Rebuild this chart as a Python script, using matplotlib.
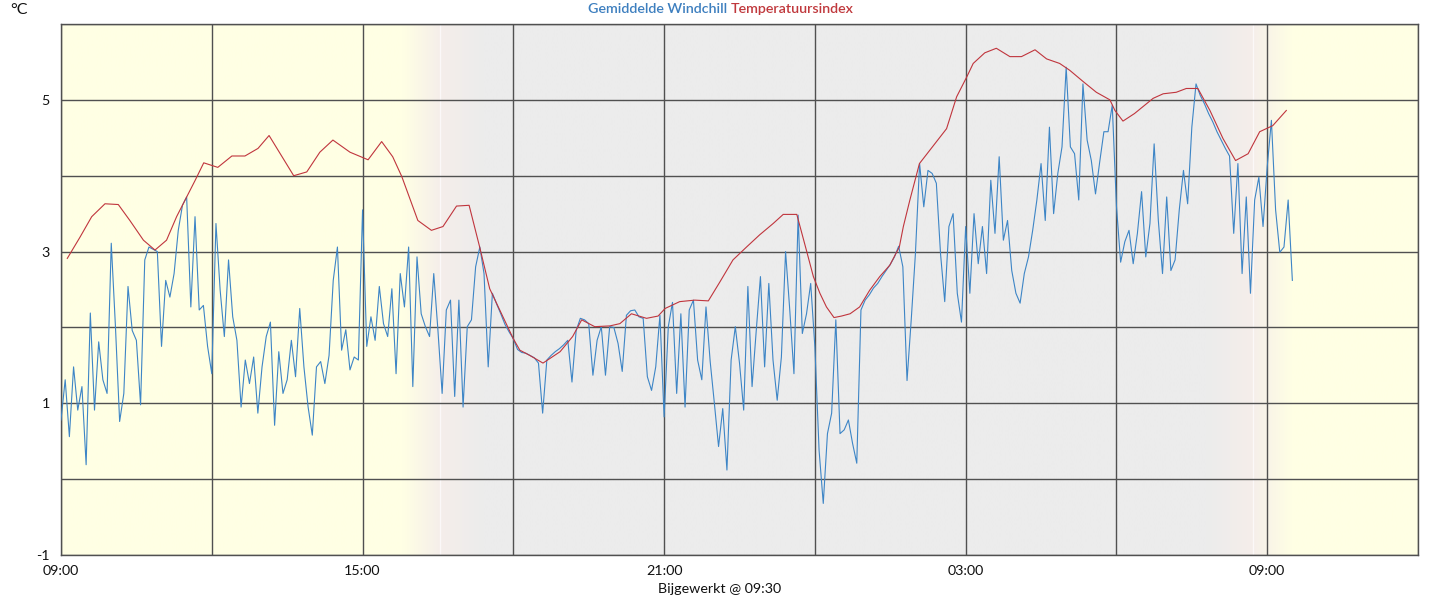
import numpy as np
import matplotlib
matplotlib.use("Agg")
import matplotlib.pyplot as plt
from matplotlib.colors import to_rgb

plt.rcParams['font.family'] = ['Lato', 'DejaVu Sans']

# ---------------- data ----------------
# Gemiddelde Windchill, 5-minute samples starting 09:00
windchill = [
    0.78, 1.31, 0.56, 1.48, 0.91, 1.22, 0.19, 2.19, 0.91, 1.81,
    1.31, 1.13, 3.11, 2.01, 0.76, 1.13, 2.54, 1.96, 1.83, 0.98,
    2.89, 3.06, 3.03, 3.00, 1.75, 2.62, 2.40, 2.71, 3.28, 3.61,
    3.72, 2.27, 3.46, 2.23, 2.29, 1.75, 1.39, 3.37, 2.49, 1.88,
    2.89, 2.14, 1.83, 0.95, 1.57, 1.26, 1.61, 0.87, 1.48, 1.88,
    2.07, 0.71, 1.68, 1.13, 1.31, 1.83, 1.35, 2.25, 1.48, 0.95,
    0.58, 1.48, 1.55, 1.26, 1.63, 2.62, 3.06, 1.70, 1.97, 1.44,
    1.61, 1.57,
    3.55, 1.75, 2.14, 1.83, 2.54, 2.05, 1.88, 2.51, 1.39, 2.71,
    2.27, 3.06, 1.22, 2.93, 2.18, 2.01, 1.88, 2.71, 1.96, 1.13,
    2.23, 2.36, 1.09, 2.36, 0.95, 2.01, 2.10, 2.80, 3.06, 2.71,
    1.48, 2.45, 2.31, 2.18, 2.04, 1.94, 1.85, 1.71, 1.67, 1.66,
    1.63, 1.60, 1.53, 0.87, 1.57, 1.63, 1.68, 1.72,
    1.77, 1.83, 1.28, 1.96, 2.12, 2.10, 2.05, 1.37, 1.83, 2.01,
    1.37, 2.01, 2.00, 1.79, 1.42, 2.16, 2.22, 2.23, 2.14, 2.12,
    1.35, 1.17, 1.48, 2.16, 0.82, 2.01, 2.33, 1.13, 2.18, 0.95,
    2.23, 2.36, 1.57, 1.31, 2.27, 1.55, 1.00, 0.43, 0.93, 0.12,
    1.57, 2.01, 1.53, 0.91, 2.54, 1.22, 1.96, 2.67, 1.48, 2.58,
    1.57, 1.04,
    1.61, 3.00, 2.23, 1.39, 3.48, 1.92, 2.18, 2.58, 1.74, 0.38,
    -0.32, 0.60, 0.87, 2.10, 0.60, 0.65, 0.78, 0.47, 0.21, 2.23,
    2.36, 2.43, 2.52, 2.58, 2.67, 2.75, 2.83, 2.93,
    3.07, 2.80, 1.30, 2.10, 2.97, 4.16, 3.59, 4.07, 4.03, 3.90,
    2.97, 2.34, 3.33, 3.50, 2.45, 2.07, 3.33, 2.45, 3.50, 2.84,
    3.33, 2.71, 3.94, 3.24, 4.25, 3.15, 3.41, 2.75, 2.45, 2.32,
    2.71, 2.93, 3.28, 3.68, 4.16, 3.41, 4.64, 3.50, 4.03, 4.38,
    5.43, 4.38, 4.29, 3.68, 5.21, 4.47, 4.20, 3.76, 4.18, 4.58,
    4.58, 4.93,
    3.60, 2.86, 3.13, 3.28, 2.84, 3.24, 3.79, 2.93, 3.37, 4.42,
    3.41, 2.71, 3.72, 2.75, 2.89, 3.55, 4.07, 3.63, 4.64, 5.21,
    5.06, 4.95, 4.82, 4.71, 4.58, 4.47, 4.36, 4.26, 3.24, 4.16,
    2.71, 3.72, 2.45, 3.68, 3.98, 3.33, 4.12, 4.73, 3.55, 2.99,
    3.06, 3.68, 2.62,
]
windchill_step_min = 5

# Temperatuursindex: hours after 09:00 and values
temp_hours = [
    0.125, 0.378, 0.611, 0.875, 1.14, 1.37, 1.64, 1.87, 2.10, 2.30,
    2.67, 2.84, 3.12, 3.40, 3.66, 3.92, 4.14, 4.63, 4.89, 5.15,
    5.41, 5.75, 6.11, 6.38, 6.60, 6.78, 7.10, 7.37, 7.60, 7.87,
    8.12, 8.33, 8.53, 9.00, 9.13, 9.33, 9.59, 9.93, 10.18, 10.36,
    10.62, 10.92, 11.12, 11.35, 11.65, 11.88, 12.02, 12.31, 12.61, 12.88,
    13.11, 13.37, 13.64, 13.90, 14.17, 14.37, 14.64, 14.83, 14.97, 15.10,
    15.23, 15.38, 15.53, 15.70, 15.89, 16.09, 16.29, 16.49, 16.68, 16.76,
    16.89, 17.08, 17.35, 17.62, 17.82, 18.02, 18.15, 18.38, 18.61, 18.88,
    19.11, 19.38, 19.61, 19.87, 20.07, 20.34, 20.60, 20.87, 20.97, 21.13,
    21.36, 21.73, 21.93, 22.19, 22.39, 22.62, 22.86, 23.12, 23.37, 23.62,
    23.85, 24.11, 24.38,
]
temp_values = [
    2.91, 3.19, 3.46, 3.63, 3.62, 3.41, 3.15, 3.02, 3.15, 3.46,
    3.94, 4.17, 4.11, 4.26, 4.26, 4.36, 4.53, 4.00, 4.05, 4.31,
    4.47, 4.31, 4.21, 4.45, 4.25, 3.99, 3.41, 3.28, 3.33, 3.60,
    3.61, 3.06, 2.51, 1.85, 1.70, 1.63, 1.53, 1.68, 1.88, 2.10,
    2.01, 2.02, 2.05, 2.18, 2.12, 2.15, 2.25, 2.34, 2.36, 2.35,
    2.60, 2.89, 3.06, 3.22, 3.37, 3.49, 3.49, 3.02, 2.67, 2.45,
    2.27, 2.13, 2.15, 2.18, 2.27, 2.49, 2.67, 2.82, 3.06, 3.33,
    3.68, 4.16, 4.39, 4.62, 5.04, 5.30, 5.48, 5.62, 5.68, 5.57,
    5.57, 5.66, 5.54, 5.48, 5.39, 5.24, 5.10, 5.00, 4.86, 4.72,
    4.82, 5.02, 5.08, 5.10, 5.15, 5.15, 4.86, 4.49, 4.20, 4.29,
    4.58, 4.66, 4.86,
]

x_tick_hours = [0, 6, 12, 18, 24]
x_tick_labels = ['09:00', '15:00', '21:00', '03:00', '09:00']
y_tick_values = [-1, 1, 3, 5]

sunset_h = 7.55
sunrise_h = 23.71

# ---------------- figure ----------------
W, H = 1440, 600
fig = plt.figure(figsize=(W / 100, H / 100), dpi=100)
ax = fig.add_axes([61 / W, (H - 555) / H, (1418 - 61) / W, (555 - 24) / H])

x0, x1 = 0, 27
y0, y1 = -1, 6
ax.set_xlim(x0, x1)
ax.set_ylim(y0, y1)

# day / night background
yellow = np.array(to_rgb('#ffffe4'))
pink = np.array(to_rgb('#f5eeea'))
grey = np.array(to_rgb('#ececec'))
stops_h = [0, 6.8, sunset_h, 8.4, 22.8, sunrise_h, 24.5, 27]
stops_c = [yellow, yellow, pink, grey, grey, pink, yellow, yellow]
xs = np.linspace(x0, x1, 2000)
cols = np.stack([np.interp(xs, stops_h, [c[k] for c in stops_c]) for k in range(3)], axis=-1)
ax.imshow(cols[np.newaxis, :, :], extent=[x0, x1, y0, y1], aspect='auto',
          interpolation='bilinear', zorder=0)
for h in (sunset_h, sunrise_h):
    ax.axvline(h, color='#fbf8f8', lw=1.0, zorder=0.5)

# grid
ax.set_xticks(np.arange(0, 28, 3))
ax.set_xticklabels([x_tick_labels[x_tick_hours.index(h)] if h in x_tick_hours else ''
                    for h in range(0, 28, 3)])
ax.set_yticks(np.arange(-1, 7, 1))
ax.set_yticklabels([str(v) if v in y_tick_values else '' for v in range(-1, 7)])
ax.grid(True, color='#505050', lw=1.0, zorder=1)
ax.set_axisbelow(False)
for s in ax.spines.values():
    s.set_color('#505050')
    s.set_linewidth(1.0)
ax.tick_params(length=0, labelsize=10.3, colors='#111111')
ax.tick_params(axis='y', pad=8)
ax.tick_params(axis='x', pad=7)

# lines
wx = np.arange(len(windchill)) * windchill_step_min / 60.0
ax.plot(wx, windchill, color='#3d85c6', lw=0.8, zorder=3)
ax.plot(temp_hours, temp_values, color='#c0353d', lw=0.8, zorder=4)

# texts
fig.text(727 / W, 1 - 9 / H, 'Gemiddelde Windchill', color='#3d7fbf', ha='right',
         va='center', fontsize=10.3, fontweight='semibold')
fig.text(731 / W, 1 - 9 / H, 'Temperatuursindex', color='#c0393d', ha='left',
         va='center', fontsize=10.3, fontweight='semibold')
fig.text(10 / W, 1 - 10 / H, '°C', ha='left', va='center', fontsize=11.5, color='#111111')
fig.text(720 / W, 1 - 589 / H, 'Bijgewerkt @ 09:30', ha='center', va='center',
         fontsize=10.3, color='#111111')

fig.savefig('out.png', dpi=100)
